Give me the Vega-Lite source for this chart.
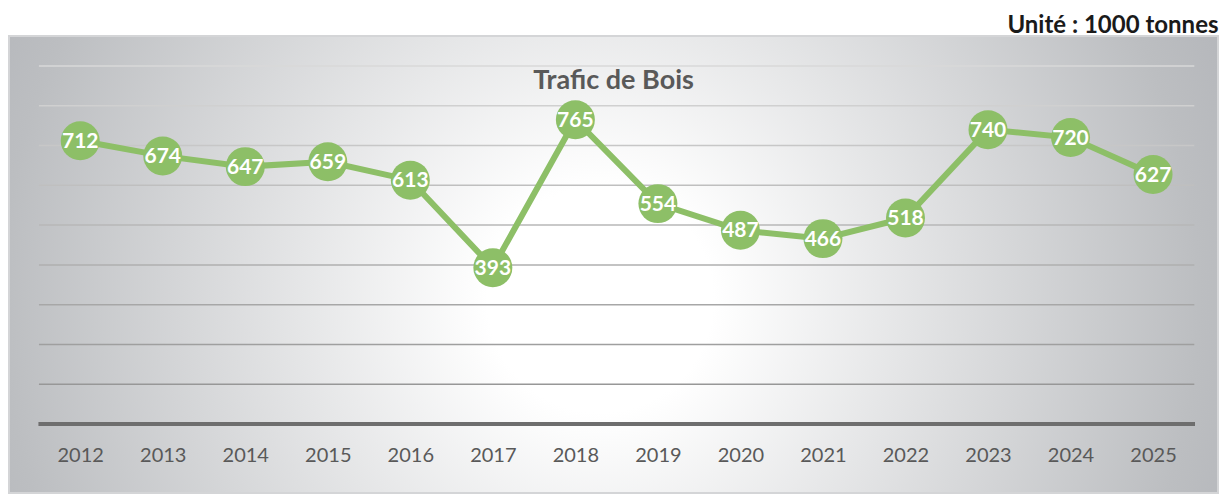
{
  "$schema": "https://vega.github.io/schema/vega-lite/v6.json",
  "width": 1209,
  "height": 457,
  "autosize": {"type": "none"},
  "padding": {"left": 9, "top": 36, "right": 4, "bottom": 3},
  "background": "white",
  "config": {
    "font": "Lato",
    "view": {
      "fill": {
        "gradient": "radial",
        "x1": 0.489, "y1": 0.529, "r1": 0,
        "x2": 0.489, "y2": 0.529, "r2": 0.55,
        "stops": [
          {"offset": 0, "color": "#FFFFFF"},
          {"offset": 0.17, "color": "#FFFFFF"},
          {"offset": 0.9, "color": "#BCBEC1"},
          {"offset": 1, "color": "#B6B8BC"}
        ]
      },
      "stroke": "#D4D5D7",
      "strokeWidth": 2
    }
  },
  "title": {
    "text": "Trafic de Bois",
    "anchor": "middle",
    "frame": "group",
    "orient": "top",
    "offset": -103,
    "baseline": "alphabetic",
    "font": "Lato",
    "fontSize": 27,
    "fontWeight": "bold",
    "color": "#595959"
  },
  "datasets": {
    "trafic": [
      {"annee": 2012, "valeur": 712},
      {"annee": 2013, "valeur": 674},
      {"annee": 2014, "valeur": 647},
      {"annee": 2015, "valeur": 659},
      {"annee": 2016, "valeur": 613},
      {"annee": 2017, "valeur": 393},
      {"annee": 2018, "valeur": 765},
      {"annee": 2019, "valeur": 554},
      {"annee": 2020, "valeur": 487},
      {"annee": 2021, "valeur": 466},
      {"annee": 2022, "valeur": 518},
      {"annee": 2023, "valeur": 740},
      {"annee": 2024, "valeur": 720},
      {"annee": 2025, "valeur": 627}
    ],
    "grille": [
      {"v": 100}, {"v": 200}, {"v": 300}, {"v": 400}, {"v": 500},
      {"v": 600}, {"v": 700}, {"v": 800}, {"v": 900}
    ]
  },
  "layer": [
    {
      "data": {"name": "grille"},
      "mark": {"type": "rule", "strokeWidth": 1.5},
      "encoding": {
        "y": {
          "field": "v", "type": "quantitative",
          "scale": {"domain": [-173.5, 975.4], "nice": false, "zero": false}
        },
        "x": {
          "datum": 2011.5, "type": "quantitative",
          "scale": {"domain": [2011.137, 2025.787], "nice": false, "zero": false}
        },
        "x2": {"datum": 2025.5},
        "color": {
          "field": "v", "type": "quantitative",
          "scale": {"domain": [100, 900], "range": ["#979797", "#D8D8D8"]},
          "legend": null
        }
      }
    },
    {
      "data": {"name": "trafic"},
      "mark": {"type": "rule", "strokeWidth": 4, "color": "#6E6E6E"},
      "encoding": {
        "y": {"datum": 0, "type": "quantitative"},
        "x": {"datum": 2011.5, "type": "quantitative"},
        "x2": {"datum": 2025.5}
      }
    },
    {
      "data": {"name": "trafic"},
      "mark": {"type": "line", "color": "#8DBF67", "strokeWidth": 6},
      "encoding": {
        "x": {
          "field": "annee", "type": "quantitative",
          "axis": {
            "orient": "bottom",
            "offset": -69,
            "values": [2012, 2013, 2014, 2015, 2016, 2017, 2018, 2019, 2020, 2021, 2022, 2023, 2024, 2025],
            "format": "d",
            "ticks": false, "domain": false, "grid": false,
            "title": null,
            "labelPadding": 21,
            "labelBaseline": "top",
            "labelFont": "Lato", "labelFontSize": 20, "labelColor": "#595959",
            "labelFlush": false,
            "labelOverlap": false
          }
        },
        "y": {
          "field": "valeur", "type": "quantitative",
          "axis": {
            "orient": "right",
            "labels": false, "ticks": false, "domain": false, "grid": false,
            "title": "Unité : 1000 tonnes",
            "titleAngle": 0, "titleX": 0, "titleY": -4,
            "titleAlign": "right", "titleBaseline": "alphabetic",
            "titleFont": "Lato", "titleFontSize": 24, "titleFontWeight": "bold",
            "titleColor": "#1A1A1A"
          }
        }
      }
    },
    {
      "data": {"name": "trafic"},
      "mark": {"type": "point", "shape": "circle", "filled": true, "opacity": 1, "size": 1520, "color": "#8DBF67"},
      "encoding": {
        "x": {"field": "annee", "type": "quantitative"},
        "y": {"field": "valeur", "type": "quantitative"}
      }
    },
    {
      "data": {"name": "trafic"},
      "mark": {"type": "text", "color": "white", "font": "Lato", "fontSize": 21, "fontWeight": "bold", "baseline": "middle", "align": "center", "dy": 1},
      "encoding": {
        "x": {"field": "annee", "type": "quantitative"},
        "y": {"field": "valeur", "type": "quantitative"},
        "text": {"field": "valeur", "type": "quantitative"}
      }
    }
  ]
}
